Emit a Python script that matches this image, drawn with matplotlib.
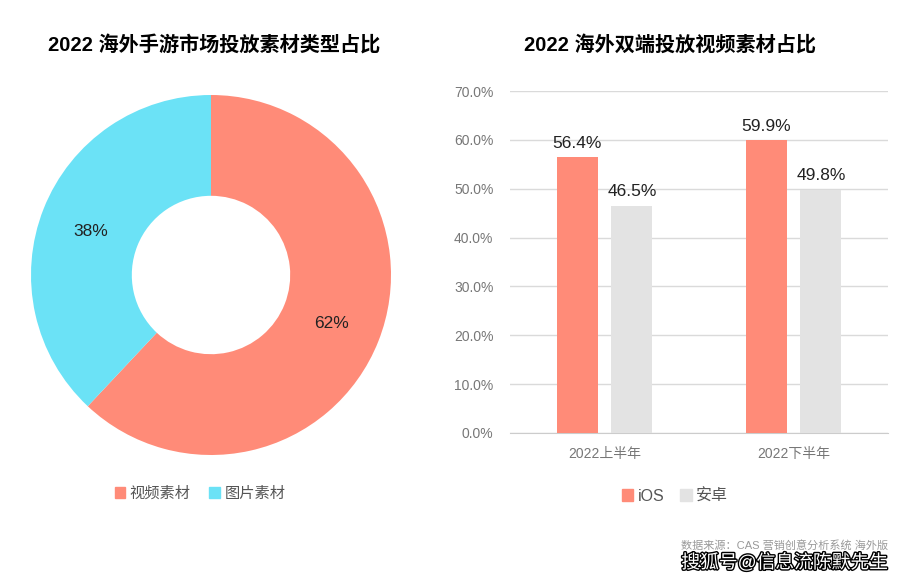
import numpy as np
import matplotlib.pyplot as plt
import matplotlib.patheffects as pe
from matplotlib.patches import Patch

plt.rcParams['font.family'] = ['Liberation Sans', 'Noto Sans CJK SC', 'DejaVu Sans']

# donut data
pie_labels = ['视频素材', '图片素材']
pie_values = [62, 38]
pie_colors = ['#FF8B78', '#6BE2F6']

# bar data
periods = ['2022上半年', '2022下半年']
ios_values = [56.4, 59.9]
android_values = [46.5, 49.8]
bar_colors = ['#FF8B78', '#E3E3E3']

W, H = 911, 582
fig = plt.figure(figsize=(W / 100, H / 100), dpi=100)

# ---- left: donut ----
cx, cy, r = 211, 275, 180
ax1 = fig.add_axes([(cx - r) / W, 1 - (cy + r) / H, 2 * r / W, 2 * r / H])
wedges, _ = ax1.pie(pie_values, colors=pie_colors, startangle=90, counterclock=False,
                    wedgeprops=dict(width=0.56, edgecolor='none'))
ax1.set_aspect('equal')
ax1.set_xlim(-1, 1)
ax1.set_ylim(-1, 1)
ax1.text(0.67, -0.27, '62%', fontsize=12.5, ha='center', va='center', color='#222222')
ax1.text(-0.67, 0.24, '38%', fontsize=12.5, ha='center', va='center', color='#222222')

fig.text(214 / W, 1 - 46 / H, '2022 海外手游市场投放素材类型占比', fontsize=14.5,
         fontweight='bold', ha='center', va='center')
handles = [Patch(color=c) for c in pie_colors]
fig.legend(handles, pie_labels, loc='center', bbox_to_anchor=(200 / W, 1 - 494 / H),
           ncol=2, frameon=False, fontsize=11, handlelength=0.7, handleheight=0.7,
           handletextpad=0.3, columnspacing=1.2, labelcolor='#555555')

# ---- right: bars ----
x0, x1, y0, y1 = 510, 888, 433, 91
ax2 = fig.add_axes([x0 / W, 1 - y0 / H, (x1 - x0) / W, (y0 - y1) / H])
x = np.arange(len(periods))
bw, off = 0.217, 0.145
b1 = ax2.bar(x - off, ios_values, bw, color=bar_colors[0], label='iOS', zorder=3)
b2 = ax2.bar(x + off, android_values, bw, color=bar_colors[1], label='安卓', zorder=3)
for bars in (b1, b2):
    for b in bars:
        ax2.text(b.get_x() + b.get_width() / 2, b.get_height() + 1.3,
                 '%.1f%%' % b.get_height(), ha='center', va='bottom',
                 fontsize=12.5, color='#222222')
ax2.set_xlim(-0.5, 1.5)
ax2.set_ylim(0, 70)
ax2.set_yticks(np.arange(0, 71, 10))
ax2.set_yticklabels(['%.1f%%' % v for v in np.arange(0, 71, 10)])
ax2.set_xticks(x)
ax2.set_xticklabels(periods)
ax2.grid(axis='y', color='#DADADA', linewidth=1, zorder=0)
for s in ['top', 'right', 'left']:
    ax2.spines[s].set_visible(False)
ax2.spines['bottom'].set_color('#CCCCCC')
ax2.tick_params(axis='both', length=0, colors='#777777', labelsize=10)
ax2.tick_params(axis='x', pad=10)
ax2.tick_params(axis='y', pad=12)

fig.text(670 / W, 1 - 46 / H, '2022 海外双端投放视频素材占比', fontsize=14.5,
         fontweight='bold', ha='center', va='center')
handles = [Patch(color=c) for c in bar_colors]
fig.legend(handles, ['iOS', '安卓'], loc='center', bbox_to_anchor=(675 / W, 1 - 496 / H),
           ncol=2, frameon=False, fontsize=11.5, handlelength=0.7, handleheight=0.7,
           handletextpad=0.3, columnspacing=1.0, labelcolor='#555555')

fig.text(888 / W, 1 - 545 / H, '数据来源：CAS 营销创意分析系统 海外版', fontsize=8,
         ha='right', va='center', color='#999999')
fig.text(888 / W, 1 - 563 / H, '搜狐号@信息流陈默先生', fontsize=13.5, ha='right',
         va='center', color='white',
         path_effects=[pe.withStroke(linewidth=2, foreground='black')])

fig.savefig('out.png', dpi=100)
